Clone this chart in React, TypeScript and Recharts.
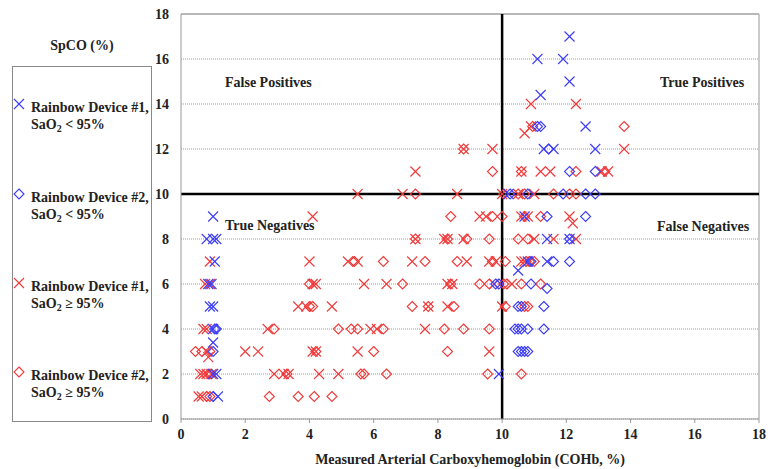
import React from 'react'
import { ScatterChart, Scatter, XAxis, YAxis, CartesianGrid, ReferenceLine } from 'recharts'

type Pt = { x: number; y: number }

const axisTicks = [0, 2, 4, 6, 8, 10, 12, 14, 16, 18]

const pts = (arr: number[][]): Pt[] => arr.map(([x, y]) => ({ x, y }))

// Rainbow Device #1, SaO2 < 95%  (blue cross)
const dev1Low = pts([
  [12.1, 17], [11.1, 16], [11.9, 16], [12.1, 15], [11.2, 14.4], [12.6, 13], [11.3, 12], [11.6, 12],
  [12.9, 12], [10.2, 10], [1.0, 9], [10.7, 9], [0.8, 8], [1.0, 8], [1.1, 8], [11.4, 8], [12.1, 8],
  [1.05, 7], [10.5, 6.6], [10.8, 7], [11.4, 7], [0.85, 6], [0.95, 6], [0.9, 5], [1.0, 5], [1.0, 4],
  [1.0, 3.4], [1.0, 2], [1.1, 2], [9.9, 2], [1.15, 1],
])

// Rainbow Device #2, SaO2 < 95%  (blue diamond)
const dev2Low = pts([
  [11.1, 13], [11.2, 13], [11.45, 12], [12.1, 11], [12.9, 11], [10.25, 10], [10.8, 10], [11.9, 10],
  [12.6, 10], [12.9, 10], [11.4, 9], [12.6, 9], [12.1, 8], [10.9, 7], [11.6, 7], [12.1, 7], [9.8, 6],
  [9.9, 6], [10.9, 6], [11.4, 5.8], [10.5, 5], [10.6, 5], [11.3, 5], [1.05, 4], [1.1, 4], [10.4, 4],
  [10.5, 4], [10.6, 4], [10.8, 4], [11.3, 4], [1.0, 3], [10.5, 3], [10.6, 3], [10.7, 3], [10.8, 3],
  [1.0, 1],
])

// Rainbow Device #1, SaO2 >= 95%  (red cross)
const dev1High = pts([
  [10.9, 14], [12.3, 14], [10.7, 12.7], [10.9, 13], [8.8, 12], [9.7, 12], [13.8, 12], [7.3, 11],
  [10.6, 11], [11.2, 11], [11.5, 11], [13.1, 11], [13.3, 11], [5.5, 10], [6.9, 10], [8.6, 10],
  [10.0, 10], [10.5, 10], [11.0, 10], [4.1, 9], [9.3, 9], [9.5, 9], [10.6, 9], [10.8, 9], [12.1, 9],
  [12.2, 8.7], [7.3, 8], [8.2, 8], [8.3, 8], [8.8, 8], [11.0, 8], [11.6, 8], [12.3, 8], [0.9, 7],
  [4.0, 7], [5.2, 7], [5.5, 7], [7.2, 7], [8.9, 7], [9.6, 7], [9.8, 7], [10.6, 7], [10.7, 7],
  [0.75, 6], [0.9, 6], [4.1, 6], [4.2, 6], [5.7, 6], [6.4, 6], [8.3, 6], [8.45, 6], [9.75, 6],
  [10.3, 6], [3.65, 5], [3.9, 5], [4.7, 5], [7.7, 5], [8.3, 5], [10.0, 5], [0.7, 4], [0.8, 4],
  [2.7, 4], [5.9, 4], [6.1, 4], [7.6, 4], [0.8, 3], [0.85, 2.75], [2.0, 3], [2.4, 3], [4.1, 3],
  [4.2, 3], [5.5, 3], [9.6, 3], [0.6, 2], [0.7, 2], [0.8, 2], [0.95, 2], [2.9, 2], [3.2, 2],
  [3.35, 2], [4.3, 2], [4.9, 2], [0.55, 1], [0.65, 1],
])

// Rainbow Device #2, SaO2 >= 95%  (red diamond)
const dev2High = pts([
  [10.95, 13], [13.8, 13], [8.8, 12], [9.7, 11], [10.6, 11], [12.3, 11], [13.2, 11], [7.3, 10],
  [10.05, 10], [10.5, 10], [10.7, 10], [11.6, 10], [12.1, 10], [12.3, 10], [8.4, 9], [9.7, 9],
  [10.0, 9], [10.7, 9], [11.2, 9], [7.3, 8], [8.3, 8], [8.9, 8], [9.6, 8], [10.5, 8], [10.8, 8],
  [5.4, 7], [6.3, 7], [7.6, 7], [8.6, 7], [9.7, 7], [10.1, 7], [10.75, 7], [10.85, 7], [11.0, 7],
  [4.0, 6], [6.9, 6], [8.4, 6], [9.3, 6], [9.6, 6], [10.05, 6], [10.15, 6], [10.6, 6], [11.2, 6],
  [4.0, 5], [4.1, 5], [7.2, 5], [7.7, 5], [8.5, 5], [10.1, 5], [10.7, 5], [10.8, 5], [2.9, 4],
  [4.9, 4], [5.3, 4], [5.5, 4], [6.3, 4], [8.2, 4], [8.8, 4], [9.6, 4], [0.45, 3], [0.65, 3],
  [0.9, 3], [4.2, 3], [6.0, 3], [8.3, 3], [0.9, 2], [3.3, 2], [5.6, 2], [5.7, 2], [6.4, 2],
  [9.55, 2], [10.6, 2], [0.8, 1], [0.9, 1], [2.75, 1], [3.65, 1], [4.15, 1], [4.7, 1],
])

const BLUE = '#3c3cf5'
const RED = '#f03a3a'
const FONT = '"Liberation Serif", "Times New Roman", serif'

const crossShape = (color: string) => (props: any) => {
  const { cx, cy } = props
  const s = 5
  return (
    <g stroke={color} strokeWidth={1.1}>
      <line x1={cx - s} y1={cy - s} x2={cx + s} y2={cy + s} />
      <line x1={cx - s} y1={cy + s} x2={cx + s} y2={cy - s} />
    </g>
  )
}

const diamondShape = (color: string) => (props: any) => {
  const { cx, cy } = props
  const s = 5
  return (
    <polygon
      points={`${cx},${cy - s} ${cx + s},${cy} ${cx},${cy + s} ${cx - s},${cy}`}
      fill="none"
      stroke={color}
      strokeWidth={1.1}
    />
  )
}

const LegendMark = ({ kind, color }: { kind: 'x' | 'd'; color: string }) => (
  <svg width={12} height={12} style={{ position: 'absolute', left: 0, top: 0 }}>
    {kind === 'x' ? (
      <g stroke={color} strokeWidth={1.1}>
        <line x1={1} y1={1} x2={11} y2={11} />
        <line x1={1} y1={11} x2={11} y2={1} />
      </g>
    ) : (
      <polygon points="6,1 11,6 6,11 1,6" fill="none" stroke={color} strokeWidth={1.1} />
    )}
  </svg>
)

const legendItems = [
  { kind: 'x' as const, color: BLUE, line1: 'Rainbow Device #1,', rel: '<', top: 97 },
  { kind: 'd' as const, color: BLUE, line1: 'Rainbow Device #2,', rel: '<', top: 187 },
  { kind: 'x' as const, color: RED, line1: 'Rainbow Device #1,', rel: '≥', top: 276 },
  { kind: 'd' as const, color: RED, line1: 'Rainbow Device #2,', rel: '≥', top: 365 },
]

const quadLabel = (text: string, left: number, top: number) => (
  <div
    style={{ position: 'absolute', left, top, fontSize: 14, fontWeight: 'bold', color: '#222', whiteSpace: 'nowrap' }}
  >
    {text}
  </div>
)

const tickStyle = { fill: '#222', fontSize: 14, fontWeight: 'bold', fontFamily: FONT }

export default function App() {
  return (
    <div style={{ position: 'absolute', left: 0, top: 0, width: 768, height: 469, background: '#fff', fontFamily: FONT }}>
      <ScatterChart width={768} height={469} margin={{ top: 14, right: 9, left: 150, bottom: 0 }}>
        <CartesianGrid vertical={false} stroke="#9a9a9a" strokeDasharray="1 1" />
        <XAxis
          type="number"
          dataKey="x"
          domain={[0, 18]}
          ticks={axisTicks}
          height={50}
          stroke="#999"
          tickSize={4}
          tickMargin={6}
          tick={tickStyle}
        />
        <YAxis
          type="number"
          dataKey="y"
          domain={[0, 18]}
          ticks={axisTicks}
          width={31}
          stroke="#999"
          tickLine={false}
          tickSize={0}
          tickMargin={12}
          tick={tickStyle}
        />
        <ReferenceLine y={18} stroke="#b8b8b8" strokeWidth={2} />
        <ReferenceLine x={18} stroke="#b8b8b8" strokeWidth={1.5} />
        <Scatter data={dev2High} shape={diamondShape(RED)} isAnimationActive={false} />
        <Scatter data={dev1High} shape={crossShape(RED)} isAnimationActive={false} />
        <Scatter data={dev2Low} shape={diamondShape(BLUE)} isAnimationActive={false} />
        <Scatter data={dev1Low} shape={crossShape(BLUE)} isAnimationActive={false} />
        <ReferenceLine x={10} stroke="#000" strokeWidth={2.5} />
        <ReferenceLine y={10} stroke="#000" strokeWidth={2.5} />
      </ScatterChart>

      {quadLabel('False Positives', 225, 75)}
      {quadLabel('True Positives', 660, 75)}
      {quadLabel('True Negatives', 225, 218)}
      {quadLabel('False Negatives', 657, 219)}

      <div
        style={{ position: 'absolute', left: 180, width: 580, top: 452, textAlign: 'center', fontSize: 14, fontWeight: 'bold', color: '#222' }}
      >
        Measured Arterial Carboxyhemoglobin (COHb, %)
      </div>

      <div style={{ position: 'absolute', left: 12, width: 140, top: 38, textAlign: 'center', fontSize: 14, fontWeight: 'bold', color: '#222' }}>
        SpCO (%)
      </div>

      <div style={{ position: 'absolute', left: 12, top: 66, width: 138, height: 354, border: '1px solid #888' }}>
        {legendItems.map((it, i) => (
          <div key={i} style={{ position: 'absolute', left: 0, top: it.top - 66, width: 138, height: 40 }}>
            <div style={{ position: 'absolute', left: 0, top: 0 }}>
              <LegendMark kind={it.kind} color={it.color} />
            </div>
            <div style={{ position: 'absolute', left: 18, top: 1, fontSize: 14, fontWeight: 'bold', color: '#222', lineHeight: '17px', whiteSpace: 'nowrap' }}>
              <div>{it.line1}</div>
              <div>
                SaO<sub style={{ fontSize: 10, verticalAlign: '-3px' }}>2</sub> {it.rel} 95%
              </div>
            </div>
          </div>
        ))}
      </div>
    </div>
  )
}
